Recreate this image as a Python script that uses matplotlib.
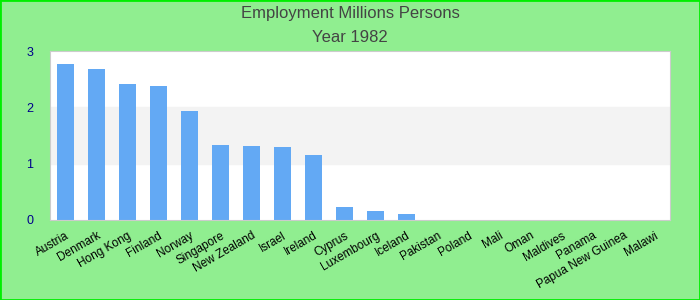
import matplotlib.pyplot as plt
import numpy as np

countries = ["Austria", "Denmark", "Hong Kong", "Finland", "Norway", "Singapore",
             "New Zealand", "Israel", "Ireland", "Cyprus", "Luxembourg", "Iceland",
             "Pakistan", "Poland", "Mali", "Oman", "Maldives", "Panama",
             "Papua New Guinea", "Malawi"]
employment = [2.77, 2.68, 2.41, 2.38, 1.94, 1.33, 1.31, 1.30, 1.15, 0.23, 0.16, 0.11,
              0, 0, 0, 0, 0, 0, 0, 0]
y_ticks = [0, 1, 2, 3]

plt.rcParams['font.family'] = ['Liberation Sans', 'DejaVu Sans']

fig = plt.figure(figsize=(7, 3), dpi=100, facecolor='#90ee90')
fig.patches.append(plt.Rectangle((0, 0), 1, 1, transform=fig.transFigure,
                                 fill=False, edgecolor='#00ee00', linewidth=2))
ax = fig.add_axes([0.0714, 0.267, 0.886, 0.563])
ax.set_facecolor('white')

x = np.arange(len(countries))
ax.axhspan(1, 2, color='#f3f3f3', zorder=0)
ax.bar(x, employment, width=0.55, color='#63a9f4', zorder=2)

ax.set_xlim(-0.5, len(countries) - 0.5)
ax.set_ylim(0, 3)
ax.set_yticks(y_ticks)
ax.set_yticklabels([str(t) for t in y_ticks], color='#00008b', fontsize=9)
ax.set_xticks(x)
ax.set_xticklabels(countries, rotation=30, ha='right', rotation_mode='anchor',
                   fontsize=8.5, color='black')
ax.tick_params(length=0)
ax.tick_params(axis='y', pad=12)
ax.tick_params(axis='x', pad=7)
for s in ax.spines.values():
    s.set_color('#cccccc')

fig.text(0.5, 0.955, "Employment Millions Persons", ha='center', va='center',
         fontsize=12, color='#444444')
fig.text(0.5, 0.875, "Year 1982", ha='center', va='center',
         fontsize=12, color='#444444')

fig.savefig("out.png", dpi=100, facecolor=fig.get_facecolor())
